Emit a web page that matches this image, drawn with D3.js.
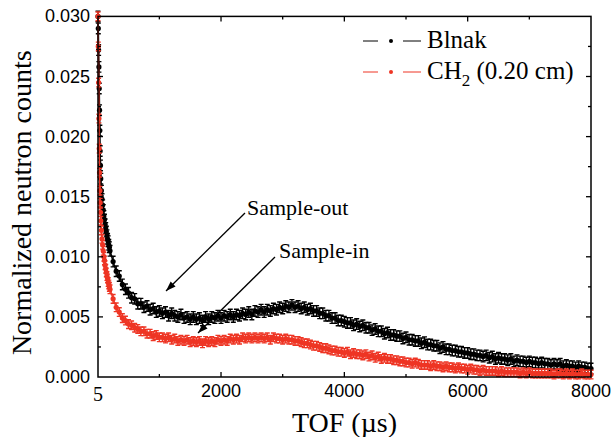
<!DOCTYPE html>
<html>
  <head>
    <meta charset="utf-8">
    <style>
    body { margin: 0; background: #fff; }
    text { fill: #000; }
    </style>
  </head>
  <body>
    <script src="https://cdn.jsdelivr.net/npm/d3@7"></script>
    <script>
      // TOF (µs)
      var tof = [5, 10, 15, 20, 25, 30, 35, 40, 45, 50,
        60, 70, 80, 90, 100, 110, 120, 130, 140, 150,
        160, 170, 180, 190, 200,
        250, 300, 350, 400, 450, 500, 550, 600, 650, 700,
        750, 800, 850, 900, 950, 1000, 1050, 1100, 1150, 1200,
        1250, 1300, 1350, 1400, 1450, 1500, 1550, 1600, 1650, 1700,
        1750, 1800, 1850, 1900, 1950, 2000, 2050, 2100, 2150, 2200,
        2250, 2300, 2350, 2400, 2450, 2500, 2550, 2600, 2650, 2700,
        2750, 2800, 2850, 2900, 2950, 3000, 3050, 3100, 3150, 3200,
        3250, 3300, 3350, 3400, 3450, 3500, 3550, 3600, 3650, 3700,
        3750, 3800, 3850, 3900, 3950, 4000, 4050, 4100, 4150, 4200,
        4250, 4300, 4350, 4400, 4450, 4500, 4550, 4600, 4650, 4700,
        4750, 4800, 4850, 4900, 4950, 5000, 5050, 5100, 5150, 5200,
        5250, 5300, 5350, 5400, 5450, 5500, 5550, 5600, 5650, 5700,
        5750, 5800, 5850, 5900, 5950, 6000, 6050, 6100, 6150, 6200,
        6250, 6300, 6350, 6400, 6450, 6500, 6550, 6600, 6650, 6700,
        6750, 6800, 6850, 6900, 6950, 7000, 7050, 7100, 7150, 7200,
        7250, 7300, 7350, 7400, 7450, 7500, 7550, 7600, 7650, 7700,
        7750, 7800, 7850, 7900, 7950, 8000];

      // Blnak (sample-out)
      var blank = [0.0300, 0.0290, 0.0272, 0.0258, 0.0240, 0.0222, 0.0205, 0.0188, 0.0176, 0.0165,
        0.0155, 0.0148, 0.0143, 0.0139, 0.0134, 0.0131, 0.0127, 0.0124, 0.0121, 0.0118,
        0.0115, 0.0113, 0.0110, 0.0108, 0.0105,
        0.0096, 0.0088, 0.0084, 0.0077, 0.0073, 0.0070, 0.0066, 0.0065, 0.0061, 0.0061,
        0.0058, 0.0059, 0.0056, 0.0057, 0.0054, 0.0055, 0.0053, 0.0054, 0.0051, 0.0053,
        0.0051, 0.0050, 0.0052, 0.0049, 0.0050, 0.0048, 0.0050, 0.0048, 0.0049, 0.0047,
        0.0050, 0.0048, 0.0050, 0.0049, 0.0051, 0.0049, 0.0051, 0.0050, 0.0052, 0.0050,
        0.0052, 0.0051, 0.0053, 0.0052, 0.0054, 0.0052, 0.0055, 0.0054, 0.0056, 0.0054,
        0.0056, 0.0055, 0.0057, 0.0056, 0.0058, 0.0057, 0.0059, 0.0058, 0.0060, 0.0058,
        0.0059, 0.0057, 0.0058, 0.0056, 0.0057, 0.0055, 0.0055, 0.0053, 0.0053, 0.0051,
        0.0051, 0.0049, 0.0049, 0.0047, 0.0047, 0.0046, 0.0045, 0.0045, 0.0043, 0.0044,
        0.0042, 0.0043, 0.0041, 0.0041, 0.0039, 0.0040, 0.0038, 0.0038, 0.0036, 0.0037,
        0.0035, 0.0035, 0.0034, 0.0034, 0.0032, 0.0033, 0.0031, 0.0031, 0.0030, 0.0030,
        0.0028, 0.0029, 0.0027, 0.0027, 0.0026, 0.0026, 0.0024, 0.0025, 0.0023, 0.0023,
        0.0022, 0.0022, 0.0021, 0.0021, 0.0020, 0.0020, 0.0019, 0.0019, 0.0018, 0.0018,
        0.0017, 0.0018, 0.0016, 0.0017, 0.0015, 0.0016, 0.0015, 0.0015, 0.0014, 0.0015,
        0.0013, 0.0014, 0.0013, 0.0013, 0.0012, 0.0013, 0.0012, 0.0012, 0.0011, 0.0012,
        0.0011, 0.0011, 0.0010, 0.0011, 0.0010, 0.0011, 0.0009, 0.0010, 0.0009, 0.0009,
        0.0008, 0.0009, 0.0008, 0.0008, 0.0007, 0.0007];

      // CH2 (0.20 cm) (sample-in)
      var ch2 = [0.0300, 0.0275, 0.0245, 0.0215, 0.0190, 0.0170, 0.0155, 0.0145, 0.0137, 0.0130,
        0.0122, 0.0115, 0.0110, 0.0105, 0.0100, 0.0097, 0.0093, 0.0090, 0.0087, 0.0084,
        0.0082, 0.0079, 0.0077, 0.0075, 0.0073,
        0.0065, 0.0058, 0.0054, 0.0049, 0.0047, 0.0044, 0.0043, 0.0041, 0.0040, 0.0038,
        0.0038, 0.0036, 0.0036, 0.0034, 0.0035, 0.0033, 0.0033, 0.0032, 0.0033, 0.0031,
        0.0032, 0.0030, 0.0031, 0.0030, 0.0031, 0.0029, 0.0030, 0.0029, 0.0030, 0.0028,
        0.0030, 0.0029, 0.0030, 0.0029, 0.0031, 0.0030, 0.0031, 0.0030, 0.0032, 0.0031,
        0.0032, 0.0031, 0.0033, 0.0032, 0.0033, 0.0032, 0.0033, 0.0032, 0.0033, 0.0032,
        0.0033, 0.0031, 0.0033, 0.0032, 0.0032, 0.0031, 0.0032, 0.0031, 0.0031, 0.0030,
        0.0030, 0.0029, 0.0028, 0.0028, 0.0027, 0.0026, 0.0026, 0.0025, 0.0024, 0.0024,
        0.0023, 0.0022, 0.0022, 0.0021, 0.0021, 0.0020, 0.0021, 0.0019, 0.0020, 0.0019,
        0.0019, 0.0018, 0.0019, 0.0017, 0.0018, 0.0016, 0.0017, 0.0015, 0.0016, 0.0015,
        0.0015, 0.0014, 0.0014, 0.0013, 0.0013, 0.0012, 0.0012, 0.0011, 0.0012, 0.0011,
        0.0010, 0.0010, 0.0010, 0.0009, 0.0010, 0.0009, 0.0009, 0.0008, 0.0009, 0.0008,
        0.0008, 0.0007, 0.0008, 0.0007, 0.0007, 0.0006, 0.0007, 0.0006, 0.0006, 0.0005,
        0.0006, 0.0005, 0.0005, 0.0005, 0.0005, 0.0004, 0.0005, 0.0004, 0.0004, 0.0004,
        0.0004, 0.0004, 0.0003, 0.0004, 0.0003, 0.0004, 0.0003, 0.0003, 0.0003, 0.0003,
        0.0003, 0.0003, 0.0003, 0.0002, 0.0003, 0.0003, 0.0002, 0.0003, 0.0002, 0.0003,
        0.0002, 0.0002, 0.0003, 0.0002, 0.0002, 0.0002];

      var blankErr = 0.00044;
      var ch2Err = 0.00036;

      var xTicks = [5, 2000, 4000, 6000, 8000];
      var xMinor = [1000, 3000, 5000, 7000];
      var yTicks = [0, 0.005, 0.010, 0.015, 0.020, 0.025, 0.030];
      var yMinor = [0.0025, 0.0075, 0.0125, 0.0175, 0.0225, 0.0275];

      var w = 616, h = 437;
      // plot box (note: "top" is reserved on window, so px* names)
      var pxL = 98, pxR = 591, pxT = 16.4, pxB = 377;
      var serif = "'Liberation Serif', 'Times New Roman', serif";
      var sans = "'Liberation Sans', Arial, sans-serif";
      var red = "#ee3524";

      var svg = d3.select("body").append("svg")
        .attr("width", w)
        .attr("height", h);

      var x = d3.scaleLinear().domain([5, 8000]).range([pxL, pxR]);
      var y = d3.scaleLinear().domain([0, 0.030]).range([pxB, pxT]);

      var series = [
        { name: "blank", values: blank, err: blankErr, color: "#000" },
        { name: "ch2", values: ch2, err: ch2Err, color: red }
      ];

      var plot = svg.append("g");

      series.forEach(function(s) {
        var pts = tof.map(function(t, i) { return [t, s.values[i]]; });
        var g = plot.append("g");

        g.append("path")
          .datum(pts)
          .attr("fill", "none")
          .attr("stroke", s.color)
          .attr("stroke-width", 1.5)
          .attr("d", d3.line()
            .x(function(d) { return x(d[0]); })
            .y(function(d) { return y(d[1]); }));

        // error bars
        g.selectAll("path.eb")
          .data(pts)
          .enter()
          .append("path")
          .attr("class", "eb")
          .attr("fill", "none")
          .attr("stroke", s.color)
          .attr("stroke-width", 1.4)
          .attr("d", function(d) {
            var cx = x(d[0]), y0 = y(d[1] - s.err), y1 = y(d[1] + s.err);
            return "M" + (cx - 2.5) + "," + y1 + "H" + (cx + 2.5) +
                   "M" + cx + "," + y1 + "V" + y0 +
                   "M" + (cx - 2.5) + "," + y0 + "H" + (cx + 2.5);
          });

        g.selectAll("circle")
          .data(pts)
          .enter()
          .append("circle")
          .attr("cx", function(d) { return x(d[0]); })
          .attr("cy", function(d) { return y(d[1]); })
          .attr("r", 2.6)
          .attr("fill", s.color);
      });

      // frame
      svg.append("rect")
        .attr("x", pxL)
        .attr("y", pxT)
        .attr("width", pxR - pxL)
        .attr("height", pxB - pxT)
        .attr("fill", "none")
        .attr("stroke", "#000")
        .attr("stroke-width", 1.5);

      // inward ticks on all four sides
      function xticks(vals, len) {
        vals.forEach(function(v) {
          svg.append("line").attr("x1", x(v)).attr("x2", x(v))
            .attr("y1", pxB).attr("y2", pxB - len)
            .attr("stroke", "#000").attr("stroke-width", 1.3);
          svg.append("line").attr("x1", x(v)).attr("x2", x(v))
            .attr("y1", pxT).attr("y2", pxT + len)
            .attr("stroke", "#000").attr("stroke-width", 1.3);
        });
      }
      function yticks(vals, len) {
        vals.forEach(function(v) {
          svg.append("line").attr("x1", pxL).attr("x2", pxL + len)
            .attr("y1", y(v)).attr("y2", y(v))
            .attr("stroke", "#000").attr("stroke-width", 1.3);
          svg.append("line").attr("x1", pxR).attr("x2", pxR - len)
            .attr("y1", y(v)).attr("y2", y(v))
            .attr("stroke", "#000").attr("stroke-width", 1.3);
        });
      }
      xticks(xTicks.slice(1, 4), 5);
      xticks(xMinor, 3);
      yticks(yTicks.slice(1, 6), 5);
      yticks(yMinor, 3);

      // tick labels
      svg.selectAll("text.xt")
        .data(xTicks)
        .enter()
        .append("text")
        .attr("class", "xt")
        .attr("x", function(d) { return x(d); })
        .attr("y", function(d) { return d === 5 ? 401 : 397; })
        .attr("text-anchor", "middle")
        .attr("font-family", function(d) { return d === 5 ? serif : sans; })
        .attr("font-size", function(d) { return d === 5 ? "20px" : "18px"; })
        .text(function(d) { return d; });

      svg.selectAll("text.yt")
        .data(yTicks)
        .enter()
        .append("text")
        .attr("class", "yt")
        .attr("x", 90)
        .attr("y", function(d) { return y(d) + 6; })
        .attr("text-anchor", "end")
        .attr("font-family", sans)
        .attr("font-size", "18px")
        .text(function(d) { return d3.format(".3f")(d); });

      // axis titles
      svg.append("text")
        .attr("x", (pxL + pxR) / 2)
        .attr("y", 432)
        .attr("text-anchor", "middle")
        .attr("font-family", serif)
        .attr("font-size", "28px")
        .text("TOF (\u00b5s)");

      svg.append("text")
        .attr("transform", "translate(31," + ((pxT + pxB) / 2 + 6) + ") rotate(-90)")
        .attr("text-anchor", "middle")
        .attr("font-family", serif)
        .attr("font-size", "28px")
        .text("Normalized neutron counts");

      // legend
      var legend = svg.append("g");
      [{ label: "Blnak", color: "#000", yy: 41 },
       { label: "CH", color: red, yy: 72, sub: "2", rest: " (0.20 cm)" }].forEach(function(d) {
        legend.append("line").attr("x1", 363).attr("x2", 378)
          .attr("y1", d.yy).attr("y2", d.yy).attr("stroke", d.color).attr("stroke-width", 1);
        legend.append("line").attr("x1", 403).attr("x2", 421)
          .attr("y1", d.yy).attr("y2", d.yy).attr("stroke", d.color).attr("stroke-width", 1);
        legend.append("circle").attr("cx", 391).attr("cy", d.yy).attr("r", 2).attr("fill", d.color);
        var t = legend.append("text")
          .attr("x", 427)
          .attr("y", d.yy + 7)
          .attr("font-family", serif)
          .attr("font-size", "25px")
          .text(d.label);
        if (d.sub) {
          t.append("tspan").attr("font-size", "17px").attr("dy", 7).text(d.sub);
          t.append("tspan").attr("dy", -7).text(d.rest);
        }
      });

      // annotations with arrows
      svg.append("defs").append("marker")
        .attr("id", "arr")
        .attr("viewBox", "0 0 10 10")
        .attr("refX", 10)
        .attr("refY", 5)
        .attr("markerWidth", 10)
        .attr("markerHeight", 10)
        .attr("markerUnits", "userSpaceOnUse")
        .attr("orient", "auto")
        .append("path")
        .attr("d", "M0,1.5L10,5L0,8.5Z")
        .attr("fill", "#000");

      var notes = [
        { label: "Sample-out", tx: 247, ty: 215, x1: 245, y1: 213, x2: 166, y2: 291 },
        { label: "Sample-in", tx: 279, ty: 258, x1: 275, y1: 257, x2: 198, y2: 333 }
      ];
      notes.forEach(function(n) {
        svg.append("line")
          .attr("x1", n.x1).attr("y1", n.y1)
          .attr("x2", n.x2).attr("y2", n.y2)
          .attr("stroke", "#000")
          .attr("stroke-width", 1.3)
          .attr("marker-end", "url(#arr)");
        svg.append("text")
          .attr("x", n.tx)
          .attr("y", n.ty)
          .attr("font-family", serif)
          .attr("font-size", "22px")
          .text(n.label);
      });
    </script>
  </body>
</html>
